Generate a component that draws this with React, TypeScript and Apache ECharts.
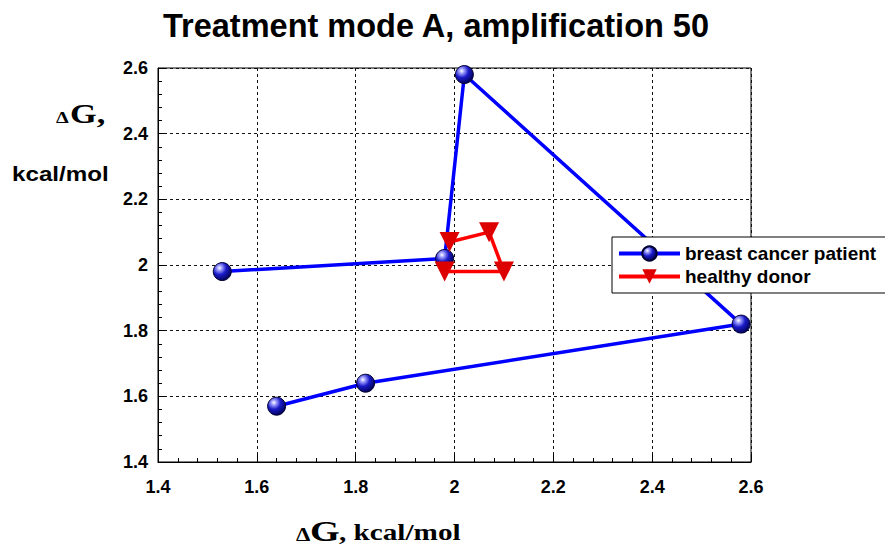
import React, { useEffect, useRef } from "react";
import * as echarts from "echarts";

const titleText = "Treatment mode A, amplification 50";
const seriesNames = ["breast cancer patient", "healthy donor"];

const cancerX = [1.64, 1.82, 2.58, 2.02, 1.98, 1.53];
const cancerY = [1.57, 1.64, 1.82, 2.58, 2.02, 1.98];

const donorX = [1.99, 2.07, 2.1, 1.98];
const donorY = [2.07, 2.1, 1.98, 1.98];

const axisMin = 1.4;
const axisMax = 2.6;
const axisStep = 0.2;

const SANS = "Arial, 'Liberation Sans', sans-serif";
const SERIF = "'Times New Roman', 'Liberation Serif', serif";

export default function App() {
  const ref = useRef<HTMLDivElement>(null);

  useEffect(() => {
    if (!ref.current) return;
    const chart = echarts.init(ref.current, null, { renderer: "svg" });

    const cancerData = cancerX.map((x, i) => [x, cancerY[i]]);
    const donorData = donorX.map((x, i) => [x, donorY[i]]);

    const sphere = {
      type: "radial",
      x: 0.35,
      y: 0.3,
      r: 0.75,
      colorStops: [
        { offset: 0, color: "#ffffff" },
        { offset: 0.18, color: "#a0a0ff" },
        { offset: 0.5, color: "#1a1ac8" },
        { offset: 1, color: "#000050" },
      ],
    };

    const axisCommon = {
      type: "value",
      min: axisMin,
      max: axisMax,
      interval: axisStep,
      axisLine: { show: true, lineStyle: { color: "#000", width: 1 } },
      axisTick: { show: true, inside: true, length: 7, lineStyle: { color: "#000" } },
      minorTick: { show: true, splitNumber: 5, length: 4, lineStyle: { color: "#000" } },
      splitLine: { show: true, lineStyle: { color: "#111", type: [3, 3], width: 1 } },
      axisLabel: {
        color: "#000",
        fontFamily: SANS,
        fontWeight: "bold",
        fontSize: 18,
      },
    };

    const option = {
      animation: false,
      backgroundColor: "#fff",
      title: {
        text: titleText,
        left: 163,
        top: 9,
        padding: 0,
        textStyle: { fontFamily: SANS, fontWeight: "bold", fontSize: 32.5, color: "#000" },
      },
      grid: {
        left: 158,
        right: 134,
        top: 68,
        bottom: 86,
        show: true,
        borderColor: "#000",
        borderWidth: 1,
        backgroundColor: "transparent",
      },
      xAxis: { ...axisCommon, axisLabel: { ...axisCommon.axisLabel, margin: 16 } },
      yAxis: { ...axisCommon, axisLabel: { ...axisCommon.axisLabel, margin: 10 } },
      legend: {
        orient: "vertical",
        left: 612,
        top: 237,
        padding: [7, 24, 7, 5],
        itemGap: 4,
        itemWidth: 61,
        itemHeight: 18,
        backgroundColor: "#fff",
        borderColor: "#000",
        borderWidth: 1,
        data: seriesNames,
        lineStyle: { width: 4 },
        textStyle: { fontFamily: SANS, fontWeight: "bold", fontSize: 19, color: "#000" },
      },
      series: [
        {
          name: seriesNames[0],
          type: "line",
          data: cancerData,
          symbol: "circle",
          symbolSize: 18,
          lineStyle: { color: "#0000ff", width: 3.5 },
          itemStyle: { color: sphere, borderColor: "#000030", borderWidth: 1 },
          z: 2,
        },
        {
          name: seriesNames[1],
          type: "line",
          data: donorData,
          symbol: "triangle",
          symbolSize: 20,
          symbolRotate: 180,
          lineStyle: { color: "#ff0000", width: 3.5 },
          itemStyle: { color: "#dd0000" },
          z: 3,
        },
      ],
      graphic: [
        {
          type: "text",
          x: 56,
          y: 118,
          scaleX: 1.27,
          style: { text: "Δ", font: `bold 16px ${SERIF}`, fill: "#000", align: "left", verticalAlign: "middle" },
        },
        {
          type: "text",
          x: 70,
          y: 114,
          scaleX: 1.27,
          style: { text: "G,", font: `bold 27px ${SERIF}`, fill: "#000", align: "left", verticalAlign: "middle" },
        },
        {
          type: "text",
          x: 12,
          y: 174.5,
          scaleX: 1.21,
          style: { text: "kcal/mol", font: `bold 20px ${SANS}`, fill: "#000", align: "left", verticalAlign: "middle" },
        },
        {
          type: "text",
          x: 296,
          y: 535,
          scaleX: 1.27,
          style: { text: "Δ", font: `bold 18px ${SERIF}`, fill: "#000", align: "left", verticalAlign: "middle" },
        },
        {
          type: "text",
          x: 310,
          y: 530.5,
          scaleX: 1.27,
          style: { text: "G", font: `bold 30px ${SERIF}`, fill: "#000", align: "left", verticalAlign: "middle" },
        },
        {
          type: "text",
          x: 339,
          y: 533,
          scaleX: 1.27,
          style: { text: ", kcal/mol", font: `bold 23px ${SERIF}`, fill: "#000", align: "left", verticalAlign: "middle" },
        },
      ],
    };

    chart.setOption(option as any);
    return () => chart.dispose();
  }, []);

  return (
    <div
      ref={ref}
      style={{ position: "fixed", left: 0, top: 0, width: 885, height: 548, background: "#fff" }}
    />
  );
}
